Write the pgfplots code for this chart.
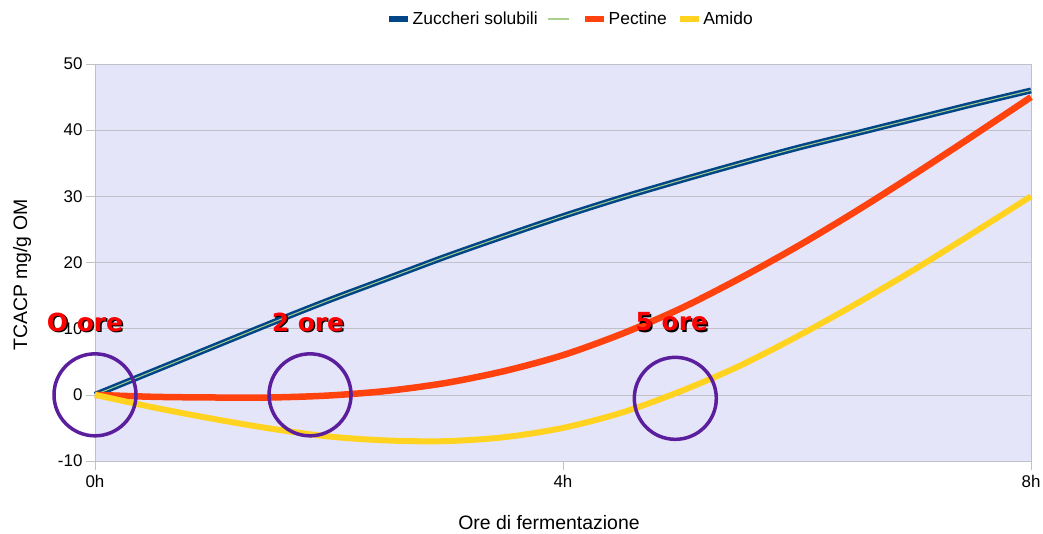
\documentclass[border=0pt]{standalone}
\usepackage{fontspec}
\setmainfont{Liberation Sans}
\newfontfamily\annfont{DejaVu Sans}
\usepackage{pgfplots}
\usepackage{pgfplotstable}
\pgfplotsset{compat=1.18}

\definecolor{czucc}{HTML}{004586}
\definecolor{cverde}{HTML}{A8CF8E}
\definecolor{cpect}{HTML}{FF420E}
\definecolor{camido}{HTML}{FFD320}
\definecolor{cbg}{RGB}{229,229,250}
\definecolor{cgrid}{RGB}{192,192,200}
\definecolor{ccirc}{HTML}{5B1F9E}

% values every half hour
\pgfplotstableread{
x   zucc  pect  amido
0   0.0   0.0   0.0
0.5 3.6  -0.3  -1.9
1   7.2  -0.4  -3.6
1.5 10.8 -0.4  -5.1
2   14.3 -0.1  -6.3
2.5 17.6  0.6  -6.9
3   20.9  1.8  -7.0
3.5 24.0  3.6  -6.4
4   27.0  6.0  -5.0
4.5 29.8  9.2  -2.7
5   32.4 13.0   0.5
5.5 34.9 17.5   4.3
6   37.3 22.4   8.8
6.5 39.5 27.7  13.7
7   41.7 33.3  18.9
7.5 43.9 39.1  24.4
8   46.0 45.0  30.0
}\datatable

\tikzset{
  ann/.style={font=\annfont\bfseries\fontsize{25}{30}\selectfont, inner sep=0pt},
  cerchio/.style={draw=ccirc, line width=3.5bp},
}

\begin{document}
\begin{tikzpicture}
\useasboundingbox (-95bp,-73bp) rectangle (948bp,461bp);
\begin{axis}[
    at={(0,0)}, anchor=south west,
    scale only axis, width=936bp, height=397bp,
    xmin=0, xmax=8, ymin=-10, ymax=50,
    xtick={0,4,8}, xticklabels={0h,4h,8h},
    ytick={-10,0,...,50},
    ymajorgrids, grid style={cgrid},
    axis background/.style={fill=cbg},
    axis line style={cgrid},
    tick pos=left, tick align=outside, major tick length=9bp,
    tick style={cgrid},
    clip=false,
    /pgf/number format/assume math mode=true,
    ticklabel style={font=\fontsize{17}{20}\selectfont},
    xticklabel style={yshift=-2bp},
    label style={font=\fontsize{19.5}{23}\selectfont},
    xlabel={Ore di fermentazione},
    ylabel={TCACP mg/g OM},
    xlabel style={at={(axis description cs:0.485,-0.156)}, anchor=center},
    ylabel style={at={(axis description cs:-0.078,0.468)}, anchor=center},
    legend columns=-1,
    legend style={at={(0.508,1.113)}, anchor=center, draw=none, fill=none,
        font=\fontsize{17.5}{20}\selectfont,
        /tikz/every even column/.append style={column sep=8bp}},
    legend cell align=left,
]
\addplot[czucc, line width=6bp, smooth,
    legend image code/.code={\draw[czucc, line width=5.5bp] (0bp,0bp) -- (19bp,0bp);}]
    table[x=x, y=zucc] {\datatable};
\addlegendentry{Zuccheri solubili}
\addplot[cverde, line width=1bp, smooth,
    legend image code/.code={\draw[cverde, line width=1.5bp] (0bp,0bp) -- (21bp,0bp);}]
    table[x=x, y=zucc] {\datatable};
\addlegendentry{}
\addplot[cpect, line width=6.5bp, smooth,
    legend image code/.code={\draw[cpect, line width=5.5bp] (0bp,0bp) -- (19bp,0bp);}]
    table[x=x, y=pect] {\datatable};
\addlegendentry{Pectine}
\addplot[camido, line width=6bp, smooth,
    legend image code/.code={\draw[camido, line width=5.5bp] (0bp,0bp) -- (19bp,0bp);}]
    table[x=x, y=amido] {\datatable};
\addlegendentry{Amido}

\draw[cerchio] (axis cs:0,0) circle[radius=41bp];
\draw[cerchio] (axis cs:1.838,0) circle[radius=41bp];
\draw[cerchio] (axis cs:4.96,-0.53) circle[radius=41bp];

\node[ann, text=black, xshift=1.5bp, yshift=-1.5bp] at (axis cs:-0.085,11) {O ore};
\node[ann, text=red] at (axis cs:-0.085,11) {O ore};
\node[ann, text=black, xshift=1.5bp, yshift=-1.5bp] at (axis cs:1.82,11) {2 ore};
\node[ann, text=red] at (axis cs:1.82,11) {2 ore};
\node[ann, text=black, xshift=1.5bp, yshift=-1.5bp] at (axis cs:4.93,11) {5 ore};
\node[ann, text=red] at (axis cs:4.93,11) {5 ore};
\end{axis}
\end{tikzpicture}
\end{document}
